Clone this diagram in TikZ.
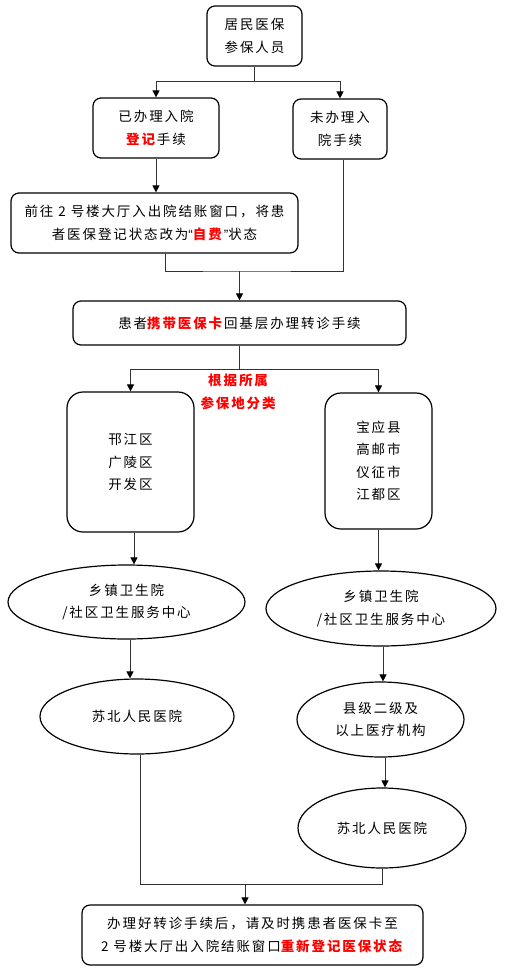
\documentclass[tikz,border=0pt]{standalone}
\usepackage{fontspec}
\setmainfont{Noto Sans CJK SC}[LetterSpace=14]
\newfontfamily\latinq{Liberation Sans}
\usepackage{xcolor}
\usetikzlibrary{calc, shapes.geometric, positioning, arrows.meta}

\newcommand{\redbf}[1]{\textcolor{red}{\textbf{#1}}}

\begin{document}
\begin{tikzpicture}[x=1pt, y=-1pt,
    >={Triangle[length=7pt, width=7pt, color=black]},
    every node/.style={font=\fontsize{13.5}{22.5}\selectfont},
    box/.style={draw, line width=1.2pt, rounded corners=8pt, align=center, inner sep=0pt},
    tallbox/.style={box, rounded corners=16pt},
    oval/.style={draw, line width=1.2pt, ellipse, align=center, inner sep=0pt},
    line/.style={draw, black!80, line width=1pt}]
    \useasboundingbox (0,0) rectangle (506,971);

    % 1. Các hộp phía trên
    \node[box, minimum width=95, minimum height=60] (ren) at (254.5,36) {居民医保\\参保人员};
    \node[box, minimum width=126, minimum height=60] (yiban) at (156,128) {已办理入院\\\redbf{登记}手续};
    \node[box, minimum width=94, minimum height=60] (weiban) at (340,129) {未办理入\\院手续};
    \node[box, minimum width=287, minimum height=60] (qianwang) at (154.5,223)
        {前往 2 号楼大厅入出院结账窗口，将患\\者医保登记状态改为{\latinq “}\redbf{自费}{\latinq ”}状态};
    \node[box, minimum width=333, minimum height=44] (huanzhe) at (239.5,323)
        {患者\redbf{携带医保卡}回基层办理转诊手续};

    % 2. Hai nhánh theo địa bàn
    \node[align=center] (fenlei) at (239,392) {\redbf{根据所属}\\\redbf{参保地分类}};
    \node[tallbox, minimum width=127, minimum height=140] (hanjiang) at (130.5,462) {邗江区\\广陵区\\开发区};
    \node[tallbox, minimum width=107, minimum height=136] (baoying) at (378.5,461) {宝应县\\高邮市\\仪征市\\江都区};

    % 3. Các hình elip
    \node[oval, minimum width=237, minimum height=74] (xiangzhenL) at (126.5,602) {乡镇卫生院\\/社区卫生服务中心};
    \node[oval, minimum width=194, minimum height=75] (subeiL) at (137,716.5) {苏北人民医院};
    \node[oval, minimum width=230, minimum height=75] (xiangzhenR) at (381,608.5) {乡镇卫生院\\/社区卫生服务中心};
    \node[oval, minimum width=167, minimum height=75] (xianji) at (380.5,719.5) {县级二级及\\以上医疗机构};
    \node[oval, minimum width=168, minimum height=80] (subeiR) at (382,828) {苏北人民医院};

    % 4. Hộp cuối
    \node[box, minimum width=341, minimum height=60] (banli) at (252.5,935)
        {办理好转诊手续后，请及时携患者医保卡至\\2 号楼大厅出入院结账窗口\redbf{重新登记医保状态}};

    % 5. Các đường nối
    \coordinate (s1) at ($(ren.south)+(0,15)$);
    \draw[line] (ren.south) -- (s1);
    \draw[line, ->] (s1) -| (yiban.north);
    \draw[line, ->] (s1) -| (weiban.north);
    \draw[line, ->] (yiban.south) -- (yiban.south |- qianwang.north);

    \coordinate (m1) at (239.5,271);
    \draw[line] ([xshift=10.5]qianwang.south) |- (m1) -| ([xshift=3]weiban.south);
    \draw[line, ->] (m1) -- (huanzhe.north);

    \coordinate (s2) at ($(huanzhe.south)+(0,24)$);
    \draw[line] (huanzhe.south) -- (s2);
    \draw[line, ->] (s2) -| (hanjiang.north);
    \draw[line, ->] (s2) -| (baoying.north);

    \draw[line, ->] ([xshift=3.5]hanjiang.south) -- ([xshift=3.5]hanjiang.south |- xiangzhenL.north);
    \draw[line, ->] ([xshift=3.5]xiangzhenL.south) -- ([xshift=3.5]xiangzhenL.south |- subeiL.north);
    \draw[line, ->] (baoying.south) -- (baoying.south |- xiangzhenR.north);
    \draw[line, ->] ([xshift=2]xiangzhenR.south) -- ([xshift=2]xiangzhenR.south |- xianji.north);
    \draw[line, ->] ([xshift=4.5]xianji.south) -- ([xshift=4.5]xianji.south |- subeiR.north);

    \coordinate (m3) at (245,884);
    \draw[line] ([xshift=3]subeiL.south) |- (m3) -| (subeiR.south);
    \draw[line, ->] (m3) -- (m3 |- banli.north);
\end{tikzpicture}
\end{document}
